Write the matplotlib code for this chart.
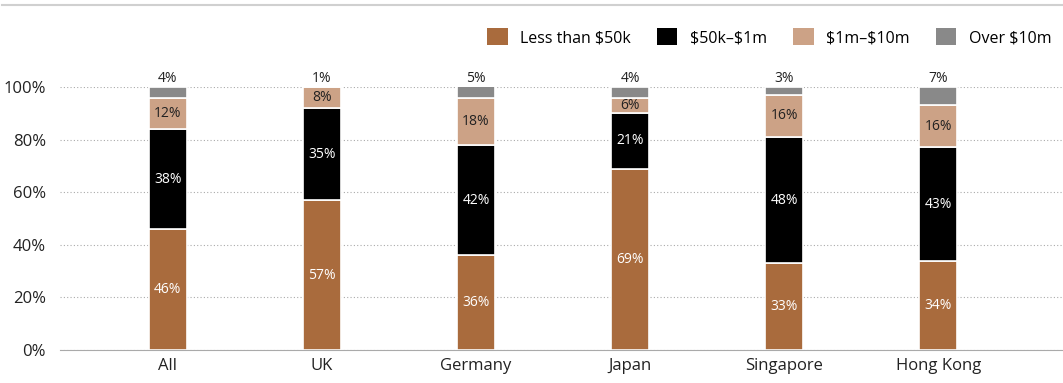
import numpy as np
import matplotlib
matplotlib.use('Agg')
import matplotlib.pyplot as plt
from matplotlib.lines import Line2D
from matplotlib.patches import Patch

plt.rcParams['font.family'] = ['Open Sans', 'DejaVu Sans']
plt.rcParams['text.parse_math'] = False

# data
countries = ['All', 'UK', 'Germany', 'Japan', 'Singapore', 'Hong Kong']
less_50k = [46, 57, 36, 69, 33, 34]
k50_1m = [38, 35, 42, 21, 48, 43]
m1_10m = [12, 8, 18, 6, 16, 16]
over_10m = [4, 1, 5, 4, 3, 7]
series_names = ['Less than $50k', '$50k\u2013$1m', '$1m\u2013$10m', 'Over $10m']

colors = ['#A96B3D', '#000000', '#CCA286', '#898989']
label_colors = ['white', 'white', '#222222', '#222222']

fig = plt.figure(figsize=(10.63, 3.83), dpi=100)
ax = fig.add_axes([60/1063, 33/383, 1003/1063, 263/383])

x = np.arange(len(countries))
series = [less_50k, k50_1m, m1_10m, over_10m]
bottom = np.zeros(len(countries))
for i, vals in enumerate(series):
    vals = np.array(vals, dtype=float)
    ax.bar(x, vals, width=0.245, bottom=bottom, color=colors[i],
           edgecolor='white', linewidth=1.2, zorder=3)
    for j in range(len(countries)):
        if i < 3:
            ax.text(x[j], bottom[j] + vals[j] / 2, f'{int(vals[j])}%',
                    ha='center', va='center', fontsize=10,
                    color=label_colors[i], zorder=4)
        else:
            ax.text(x[j], 100.5, f'{int(vals[j])}%', ha='center', va='bottom',
                    fontsize=10, color='#222222', zorder=4)
    bottom += vals

ax.set_xlim(-0.70, 5.81)
ax.set_ylim(0, 100)
ax.set_yticks([0, 20, 40, 60, 80, 100])
ax.set_yticklabels([f'{v}%' for v in [0, 20, 40, 60, 80, 100]], fontsize=12, color='#222222')
ax.set_xticks(x)
ax.set_xticklabels(countries, fontsize=12, color='#222222')
ax.tick_params(length=0, pad=6)
ax.tick_params(axis='y', pad=10)
ax.grid(axis='y', color='#AAAAAA', linestyle=(0, (1, 2)), linewidth=0.8, zorder=0)
for s in ['top', 'right', 'left']:
    ax.spines[s].set_visible(False)
ax.spines['bottom'].set_color('#AAAAAA')
ax.spines['bottom'].set_zorder(5)

handles = [Patch(facecolor=c, edgecolor='none') for c in colors]
fig.legend(handles, series_names, loc='center right', bbox_to_anchor=(1.0, 1 - 37/383),
           ncol=4, frameon=False, fontsize=11.5, handlelength=1.3, handleheight=1.3,
           handletextpad=0.8, columnspacing=1.6, borderaxespad=0.3)

fig.add_artist(Line2D([2/1063, 1.0], [1 - 5/383, 1 - 5/383], color='#D0D0D0', linewidth=1.5))

fig.savefig('out.png', dpi=100)
